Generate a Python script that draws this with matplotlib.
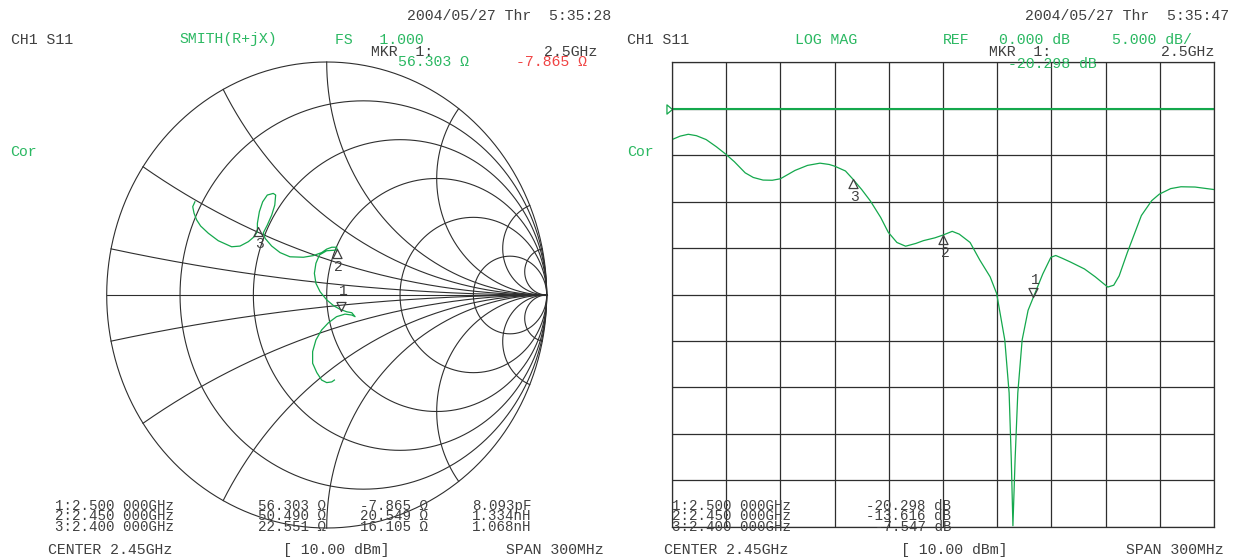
import numpy as np
import matplotlib.pyplot as plt
from matplotlib.path import Path

W, H = 1236, 559

# log mag trace of S11 (GHz, dB)
freq_ghz = [2.3000, 2.3045, 2.3090, 2.3135, 2.3189, 2.3246, 2.3300, 2.3345, 2.3405, 2.3450,
            2.3504, 2.3555, 2.3600, 2.3681, 2.3750, 2.3819, 2.3870, 2.3900, 2.3960, 2.4000,
            2.4050, 2.4098, 2.4155, 2.4197, 2.4245, 2.4293, 2.4350, 2.4392, 2.4455, 2.4500,
            2.4551, 2.4590, 2.4650, 2.4704, 2.4761, 2.4797, 2.4842, 2.4866, 2.4878, 2.4887,
            2.4899, 2.4914, 2.4938, 2.4971, 2.5000, 2.5052, 2.5097, 2.5124, 2.5160, 2.5205,
            2.5283, 2.5343, 2.5412, 2.5445, 2.5475, 2.5520, 2.5598, 2.5655, 2.5697, 2.5760,
            2.5817, 2.5895, 2.6000]
s11_db = [-3.32, -2.95, -2.75, -2.90, -3.32, -4.10, -4.93, -5.70, -6.90, -7.40,
          -7.68, -7.70, -7.54, -6.64, -6.10, -5.86, -6.00, -6.18, -6.70, -7.55,
          -8.70, -9.93, -11.7, -13.3, -14.4, -14.8, -14.5, -14.2, -13.9, -13.6,
          -13.2, -13.5, -14.4, -16.3, -18.1, -19.9, -24.9, -30.6, -37.8, -44.9,
          -37.8, -30.6, -24.9, -21.7, -20.3, -17.8, -16.0, -15.8, -16.1, -16.5,
          -17.25, -18.1, -19.2, -19.0, -18.0, -15.5, -11.5, -9.9, -9.2, -8.6,
          -8.4, -8.43, -8.7]

# smith trace (reflection coefficient)
gamma_re = [-0.599, -0.609, -0.603, -0.591, -0.573, -0.538, -0.493, -0.432, -0.394, -0.356,
            -0.330, -0.315, -0.315, -0.306, -0.291, -0.270, -0.243, -0.232, -0.236, -0.250,
            -0.270, -0.288, -0.280, -0.250, -0.212, -0.167, -0.106, -0.061, -0.023, 0.000,
            0.023, 0.045, 0.048, 0.000, -0.033, -0.049, -0.056, -0.049, -0.030, 0.000,
            0.033, 0.060, 0.091, 0.114, 0.129, 0.114, 0.083, 0.045, 0.008, -0.023,
            -0.049, -0.064, -0.064, -0.045, -0.023, 0.000, 0.023, 0.035]
gamma_im = [0.400, 0.379, 0.351, 0.322, 0.296, 0.265, 0.233, 0.207, 0.210, 0.229,
            0.250, 0.272, 0.308, 0.358, 0.400, 0.429, 0.436, 0.429, 0.386, 0.343,
            0.300, 0.267, 0.243, 0.210, 0.182, 0.164, 0.162, 0.169, 0.182, 0.197,
            0.205, 0.205, 0.193, 0.190, 0.172, 0.136, 0.093, 0.050, 0.014, -0.021,
            -0.047, -0.061, -0.072, -0.076, -0.093, -0.086, -0.082, -0.093, -0.119, -0.150,
            -0.193, -0.243, -0.293, -0.333, -0.365, -0.376, -0.373, -0.365]

# marker table
mkr_num = ['1', '2', '3']
mkr_freq = [2.5, 2.45, 2.4]
mkr_freq_txt = ['2.500 000GHz', '2.450 000GHz', '2.400 000GHz']
mkr_R = [56.303, 50.490, 22.551]
mkr_X = [-7.865, 20.549, 16.105]
mkr_LC = ['8.093pF', '1.334nH', '1.068nH']
mkr_db = [-20.298, -13.616, -7.547]

# smith chart grid
r_circles = [0.2, 0.5, 1, 2, 5]
x_arcs = [0.1, 0.3, 0.6, 1, 2, 5, 10]

GRAY = '#404040'
GRID = '#2e2e2e'
GREEN = '#2bb862'
TRACE = '#14a84c'
RED = '#f04444'
FONT = 'Liberation Mono'

fig = plt.figure(figsize=(W / 100, H / 100), dpi=100)
fig.patch.set_facecolor('white')

up_tri = Path([(0, 0), (-0.5, -1), (0.5, -1), (0, 0)],
              [Path.MOVETO, Path.LINETO, Path.LINETO, Path.CLOSEPOLY])
dn_tri = Path([(0, 0), (-0.5, 1), (0.5, 1), (0, 0)],
              [Path.MOVETO, Path.LINETO, Path.LINETO, Path.CLOSEPOLY])
ref_tri = Path([(0, 0), (-0.6, 0.5), (-0.6, -0.5), (0, 0)],
               [Path.MOVETO, Path.LINETO, Path.LINETO, Path.CLOSEPOLY])


def put(x, y, s, color=GRAY, ha='left', size=10.7):
    fig.text(x / W, 1 - y / H, s, ha=ha, va='center', color=color,
             fontsize=size, family=FONT)


# ---------------- smith chart ----------------
ax1 = fig.add_axes([106.7 / W, 1 - 528 / H, 440 / W, 466 / H])
ax1.set_xlim(-1, 1)
ax1.set_ylim(-1, 1)
ax1.axis('off')
kw = dict(color=GRID, lw=0.8, clip_on=False)

th = np.linspace(0, 2 * np.pi, 721)
ax1.plot(np.cos(th), np.sin(th), **kw)
ax1.plot([-1, 1], [0, 0], **kw)
for r in r_circles:
    c, rad = r / (1 + r), 1 / (1 + r)
    ax1.plot(c + rad * np.cos(th), rad * np.sin(th), **kw)
t = np.linspace(0, np.pi / 2, 800)[:-1]
for x in x_arcs:
    for sgn in (1, -1):
        z = np.tan(t) + 1j * sgn * x
        g = (z - 1) / (z + 1)
        ax1.plot(np.append(g.real, 1), np.append(g.imag, 0), **kw)

ax1.plot(gamma_re, gamma_im, color=TRACE, lw=0.9, clip_on=False)

for i in range(3):
    z = (mkr_R[i] + 1j * mkr_X[i]) / 50.0
    g = (z - 1) / (z + 1)
    if mkr_num[i] == '1':
        ax1.plot(g.real, g.imag, marker=dn_tri, ms=13, mfc='none', mec=GRAY, mew=0.9)
        ax1.annotate('1', (g.real, g.imag), xytext=(1.5, 14.5), textcoords='offset points',
                     ha='center', va='center', color=GRAY, fontsize=10.5, family=FONT)
    else:
        ax1.plot(g.real, g.imag, marker=up_tri, ms=13, mfc='none', mec=GRAY, mew=0.9)
        ax1.annotate(mkr_num[i], (g.real, g.imag), xytext=(1.5, -12.5), textcoords='offset points',
                     ha='center', va='center', color=GRAY, fontsize=10.5, family=FONT)

# ---------------- log mag ----------------
ax2 = fig.add_axes([672 / W, 1 - 526.7 / H, 542 / W, 464.4 / H])
ax2.set_xlim(2.3, 2.6)
ax2.set_ylim(-45, 5)
ax2.set_xticks(np.linspace(2.3, 2.6, 11))
ax2.set_yticks(np.linspace(-45, 5, 11))
ax2.grid(True, color=GRID, lw=0.9)
ax2.tick_params(length=0, labelbottom=False, labelleft=False)
for s in ax2.spines.values():
    s.set_color(GRID)
    s.set_linewidth(0.9)
ax2.set_facecolor('none')

ax2.axhline(0, color=TRACE, lw=1.5)
ax2.plot(2.3, 0, marker=ref_tri, ms=8, mfc='none', mec=TRACE, mew=0.9, clip_on=False)
ax2.plot(freq_ghz, s11_db, color=TRACE, lw=0.9)

for i in range(3):
    f, d = mkr_freq[i], mkr_db[i]
    if mkr_num[i] == '1':
        ax2.plot(f, d, marker=dn_tri, ms=13, mfc='none', mec=GRAY, mew=0.9)
        ax2.annotate('1', (f, d), xytext=(1.5, 12.5), textcoords='offset points',
                     ha='center', va='center', color=GRAY, fontsize=10.5, family=FONT)
    else:
        ax2.plot(f, d, marker=up_tri, ms=13, mfc='none', mec=GRAY, mew=0.9)
        ax2.annotate(mkr_num[i], (f, d), xytext=(1.5, -13), textcoords='offset points',
                     ha='center', va='center', color=GRAY, fontsize=10.5, family=FONT)

# ---------------- texts ----------------
put(611, 16, '2004/05/27 Thr  5:35:28', ha='right')
put(11, 39.5, 'CH1 S11')
put(179, 39.5, 'SMITH(R+jX)', GREEN)
put(335, 39.5, 'FS   1.000', GREEN)
put(371, 51.5, 'MKR  1:')
put(597, 51.5, '2.5GHz', ha='right')
put(398, 62.5, f'{mkr_R[0]:.3f} Ω', GREEN)
put(516, 62.5, f'{mkr_X[0]:.3f} Ω', RED)
put(10, 152, 'Cor', GREEN)

put(1229, 16, '2004/05/27 Thr  5:35:47', ha='right')
put(627, 39.5, 'CH1 S11')
put(795, 39.5, 'LOG MAG', GREEN)
put(943, 39.5, 'REF', GREEN)
put(999, 39.5, '0.000 dB', GREEN)
put(1112, 39.5, '5.000 dB/', GREEN)
put(989, 51.5, 'MKR  1:')
put(1214, 51.5, '2.5GHz', ha='right')
put(1008, 63.5, f'{mkr_db[0]:.3f} dB', GREEN)
put(627, 152, 'Cor', GREEN)

# marker lists: rows sit closer than the glyph height, as on the analyser screen
rows_y = [506, 516.5, 527]
for i in range(3):
    y = rows_y[i]
    put(55, y, f'{mkr_num[i]}:{mkr_freq_txt[i]}', size=10.2)
    put(326, y, f'{mkr_R[i]:.3f} Ω', ha='right', size=10.2)
    put(428, y, f'{mkr_X[i]:.3f} Ω', ha='right', size=10.2)
    put(472, y, mkr_LC[i], size=10.2)
    put(672, y, f'{mkr_num[i]}:{mkr_freq_txt[i]}', size=10.2)
    put(951.5, y, f'{mkr_db[i]:.3f} dB', ha='right', size=10.2)

put(48, 550, 'CENTER 2.45GHz')
put(283, 550, '[ 10.00 dBm]')
put(604, 550, 'SPAN 300MHz', ha='right')
put(664.5, 550, 'CENTER 2.45GHz')
put(901.5, 550, '[ 10.00 dBm]')
put(1224, 550, 'SPAN 300MHz', ha='right')

fig.savefig('out.png', dpi=100, facecolor='white')
